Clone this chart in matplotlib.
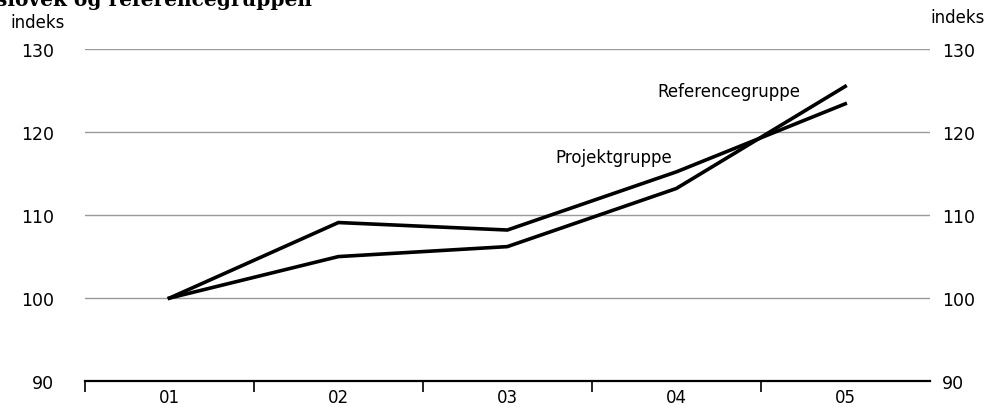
import matplotlib
matplotlib.use("Agg")
import matplotlib.pyplot as plt

# data (index, 01 = 100)
aar = ["01", "02", "03", "04", "05"]
projektgruppe = [100, 109.1, 108.2, 115.2, 123.4]
referencegruppe = [100, 105.0, 106.2, 113.2, 125.5]
y_ticks = [90, 100, 110, 120, 130]

plt.rcParams['font.family'] = ['DejaVu Sans']

fig = plt.figure(figsize=(9.88, 4.10), dpi=100)
ax = fig.add_axes([0.086, 0.068, 0.855, 0.81])

x = list(range(len(aar)))

# grid
for v in y_ticks[1:]:
    ax.axhline(v, color='#9a9a9a', lw=1.0, zorder=1)

ax.plot(x, projektgruppe, color='black', lw=2.6, zorder=3, solid_joinstyle='miter')
ax.plot(x, referencegruppe, color='black', lw=2.6, zorder=3, solid_joinstyle='miter')

ax.text(3.31, 125.0, "Referencegruppe", fontsize=12, ha='center', va='center')
ax.text(2.63, 117.0, "Projektgruppe", fontsize=12, ha='center', va='center')

ax.set_xlim(-0.5, 4.5)
ax.set_ylim(90, 130)

for s in ['top', 'right', 'left']:
    ax.spines[s].set_visible(False)
ax.spines['bottom'].set_linewidth(1.6)

# ticks between categories, labels in the middle
ax.set_xticks([-0.5, 0.5, 1.5, 2.5, 3.5])
ax.set_xticklabels([])
ax.tick_params(axis='x', which='major', length=8, width=1.2, direction='out')
ax.set_xticks(x, minor=True)
ax.set_xticklabels(aar, minor=True, fontsize=12)
ax.tick_params(axis='x', which='minor', length=0, pad=5)

ax.set_yticks(y_ticks)
ax.set_yticklabels([str(v) for v in y_ticks], fontsize=12.5)
ax.tick_params(axis='y', length=0, pad=22)

ax2 = ax.twinx()
ax2.set_ylim(90, 130)
ax2.set_yticks(y_ticks)
ax2.set_yticklabels([str(v) for v in y_ticks], fontsize=12.5)
ax2.tick_params(axis='y', length=0, pad=9)
for s in ax2.spines.values():
    s.set_visible(False)

fig.text(0.011, 0.945, "indeks", fontsize=12, ha='left', va='center')
fig.text(0.997, 0.955, "indeks", fontsize=12, ha='right', va='center')

# title, cut off at the top edge like the scan
fig.text(-0.004, 0.985, "slovek og referencegruppen", fontsize=14.5, fontweight='bold',
         family='DejaVu Serif', ha='left', va='baseline')

fig.savefig("out.png", dpi=100)
